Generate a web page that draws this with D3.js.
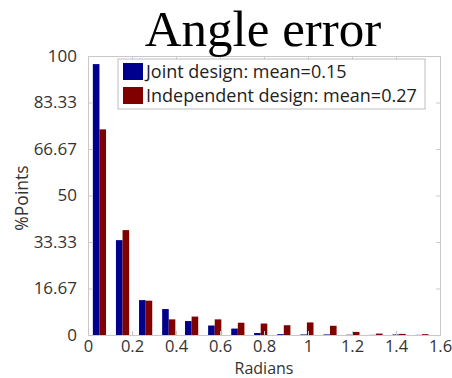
<!DOCTYPE html>
<html>
<head>
<meta charset="utf-8">
<script src="https://cdn.jsdelivr.net/npm/d3@7"></script>
<style>
  html, body { margin: 0; padding: 0; background: #fff; }
  svg { display: block; }
</style>
</head>
<body>
<svg id="chart" width="452" height="378"></svg>
<script>
// Histogram bin centres (radians) and percentage of points per bin
const binCenters = [0.052, 0.157, 0.262, 0.367, 0.471, 0.576, 0.681, 0.785,
                    0.890, 0.995, 1.100, 1.204, 1.309, 1.414, 1.518];
const jointPct = [97.1, 34.0, 12.5, 9.3, 5.0, 3.4, 2.3, 0.7, 0.3, 0.2, 0.2, 0.1, 0.05, 0.2, 0.05];
const independentPct = [73.7, 37.6, 12.3, 5.6, 6.6, 5.6, 4.4, 4.1, 3.5, 4.5, 3.3, 1.1, 0.5, 0.4, 0.3];
const seriesNames = ["Joint design: mean=0.15", "Independent design: mean=0.27"];
const xTicks = [0, 0.2, 0.4, 0.6, 0.8, 1, 1.2, 1.4, 1.6];
const yTicks = [0, 16.67, 33.33, 50, 66.67, 83.33, 100];
const yTickLabels = ["0", "16.67", "33.33", "50", "66.67", "83.33", "100"];

const colors = ["#00008f", "#800000"];
const series = [jointPct, independentPct];

const svg = d3.select("#chart");
const margin = { left: 88, right: 12, top: 56, bottom: 43 };
const W = 452, H = 378;
const x0 = margin.left, x1 = W - margin.right;
const y0 = H - margin.bottom, y1 = margin.top;

const x = d3.scaleLinear().domain([0, 1.6]).range([x0, x1]);
const y = d3.scaleLinear().domain([0, 100]).range([y0, y1]);

const binWidthPx = x(binCenters[1]) - x(binCenters[0]);
const groupWidth = binWidthPx * 0.571;
const barW = groupWidth / 2;

const font = "'Open Sans', 'Noto Sans', sans-serif";
const axisColor = "#c8c8c8";

// bars
series.forEach((vals, s) => {
  svg.append("g").selectAll("rect")
    .data(vals)
    .join("rect")
    .attr("x", (d, i) => x(binCenters[i]) - groupWidth / 2 + s * barW)
    .attr("width", barW)
    .attr("y", d => y(d))
    .attr("height", d => y0 - y(d))
    .attr("fill", colors[s]);
});

// box axes with inward ticks
const axisBottom = d3.axisBottom(x).tickValues(xTicks).tickSize(-4)
  .tickFormat(d3.format("~g"));
const axisTop = d3.axisTop(x).tickValues(xTicks).tickSize(-4).tickFormat("");
const axisLeft = d3.axisLeft(y).tickValues(yTicks).tickSize(-4)
  .tickFormat((d, i) => yTickLabels[i]);
const axisRight = d3.axisRight(y).tickValues(yTicks).tickSize(-4).tickFormat("");

function styleAxis(g, size) {
  g.select(".domain").attr("stroke", axisColor);
  g.selectAll(".tick line").attr("stroke", axisColor);
  g.selectAll(".tick text").attr("fill", "#333").attr("font-family", font)
    .attr("font-size", size);
}

svg.append("g").attr("transform", `translate(0,${y0})`).call(axisBottom).call(styleAxis, 16.5)
  .selectAll(".tick text").attr("dy", null).attr("y", 16.5);
svg.append("g").attr("transform", `translate(0,${y1})`).call(axisTop).call(styleAxis, 17);
svg.append("g").attr("transform", `translate(${x0},0)`).call(axisLeft).call(styleAxis, 17)
  .selectAll(".tick text").attr("x", -11);
svg.append("g").attr("transform", `translate(${x1},0)`).call(axisRight).call(styleAxis, 17);

// title
svg.append("text")
  .attr("x", 263).attr("y", 46)
  .attr("text-anchor", "middle")
  .attr("font-family", "'Liberation Serif', 'Times New Roman', serif")
  .attr("font-size", 51)
  .attr("fill", "#000")
  .text("Angle error");

// axis labels
svg.append("text")
  .attr("x", 264).attr("y", 373.5)
  .attr("text-anchor", "middle")
  .attr("font-family", font).attr("font-size", 16).attr("fill", "#333")
  .text("Radians");

svg.append("text")
  .attr("transform", "translate(28,198) rotate(-90)")
  .attr("text-anchor", "middle")
  .attr("font-family", font).attr("font-size", 17.5).attr("fill", "#333")
  .text("%Points");

// legend
const legend = svg.append("g");
legend.append("rect")
  .attr("x", 118).attr("y", 59).attr("width", 307).attr("height", 50)
  .attr("fill", "#fff").attr("stroke", "#bdbdbd").attr("stroke-width", 1);
seriesNames.forEach((name, i) => {
  legend.append("rect")
    .attr("x", 123).attr("y", 63 + i * 24).attr("width", 20).attr("height", 17)
    .attr("fill", colors[i]);
  legend.append("text")
    .attr("x", 146).attr("y", 78 + i * 24)
    .attr("font-family", font).attr("font-size", 18).attr("fill", "#222")
    .text(name);
});
</script>
</body>
</html>
